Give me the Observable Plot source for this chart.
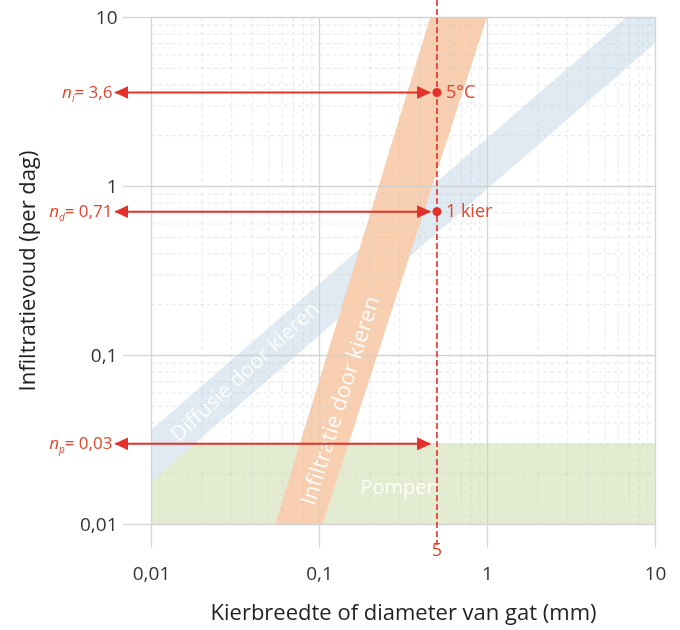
<!DOCTYPE html>
<html>
<head>
<meta charset="utf-8">
<script src="https://cdn.jsdelivr.net/npm/d3@7"></script>
<script src="https://cdn.jsdelivr.net/npm/@observablehq/plot@0.6"></script>
<style>
  html, body { margin: 0; padding: 0; background: #fff; }
  #chart svg { display: block; overflow: visible; }
</style>
</head>
<body>
<div id="chart"></div>
<script>
// ---- data ----
const majorTicks = [0.01, 0.1, 1, 10];
const majorTickLabels = ["0,01", "0,1", "1", "10"];

// Diffusie door kieren (blue band): lower / upper edge at x = 0.01 and x = 10
const diffX = [0.01, 10];
const diffLow = [0.0178, 7.0];
const diffHigh = [0.036, 14];

// Infiltratie door kieren (orange band): left / right edge at y = 0.01 and y = 10
const infY = [0.01, 10];
const infLeft = [0.055, 0.46];
const infRight = [0.105, 1.0];

// Pompen (green band)
const pumpX = [0.01, 10];
const pumpY = [0.01, 0.03];

// Reference crack width (5 -> 0,5 mm)
const refX = 0.5;
const refLabel = "5";

// Arrows / read-offs
const nSub = ["i", "d", "p"];
const nValue = [3.6, 0.71, 0.03];
const nText = ["3,6", "0,71", "0,03"];
const arrowFromX = 0.0061;
const arrowToX = 0.455;

// Points on the reference line
const pointY = [3.6, 0.71];
const pointText = ["5°C", "1 kier"];

// Band labels
const bandText = ["Diffusie door kieren", "Infiltratie door kieren", "Pompen"];
const bandX = [0.036, 0.133, 0.30];
const bandY = [0.08, 0.054, 0.0165];
const bandRotate = [-43, -72.5, 0];
const bandSize = [21, 22, 20];

// minor grid (2..9 in every decade)
const minorTicks = [];
for (const d of [0.01, 0.1, 1]) for (let m = 2; m <= 9; m++) minorTicks.push(+(m * d).toPrecision(3));

const RED = "#e3302a";
const RED_TEXT = "#e0452d";
const FONT = "Open Sans";

const tickLabel = new Map(majorTicks.map((t, i) => [t, majorTickLabels[i]]));

const triMarker = (color) => {
  const ns = "http://www.w3.org/2000/svg";
  const m = document.createElementNS(ns, "marker");
  m.setAttribute("viewBox", "0 -6.5 14 13");
  m.setAttribute("markerUnits", "userSpaceOnUse");
  m.setAttribute("markerWidth", 14);
  m.setAttribute("markerHeight", 13);
  m.setAttribute("refX", 13);
  m.setAttribute("refY", 0);
  m.setAttribute("orient", "auto-start-reverse");
  m.setAttribute("fill", color);
  m.setAttribute("stroke", "none");
  const p = document.createElementNS(ns, "path");
  p.setAttribute("d", "M0,-6.5L14,0L0,6.5Z");
  m.appendChild(p);
  return m;
};

const idx = nValue.map((_, i) => i);
const bandIdx = bandText.map((_, i) => i);

const chart = Plot.plot({
  width: 680,
  height: 630,
  marginLeft: 151,
  marginRight: 25,
  marginTop: 17,
  marginBottom: 106,
  style: {fontFamily: FONT, background: "#fff", overflow: "visible"},
  x: {type: "log", domain: [0.01, 10]},
  y: {type: "log", domain: [0.01, 10]},
  marks: [
    // bands
    Plot.rect([0], {x1: pumpX[0], x2: pumpX[1], y1: pumpY[0], y2: pumpY[1], fill: "#e3ecd0", mixBlendMode: "multiply"}),
    Plot.areaY(diffX.map((x, i) => ({x, y1: diffLow[i], y2: diffHigh[i]})),
      {x: "x", y1: "y1", y2: "y2", fill: "#dfeaf2", clip: true, mixBlendMode: "multiply"}),
    Plot.areaX(infY.map((y, i) => ({y, x1: infLeft[i], x2: infRight[i]})),
      {y: "y", x1: "x1", x2: "x2", fill: "#f8cfb0", clip: true, mixBlendMode: "multiply"}),

    // grid
    Plot.gridX(minorTicks, {stroke: "#c8c8c8", strokeOpacity: 0.42, strokeDasharray: "4,3", strokeWidth: 1}),
    Plot.gridY(minorTicks, {stroke: "#c8c8c8", strokeOpacity: 0.42, strokeDasharray: "4,3", strokeWidth: 1}),
    Plot.gridX(majorTicks, {stroke: "#cfcfcf", strokeOpacity: 0.9, strokeWidth: 1.3}),
    Plot.gridY(majorTicks, {stroke: "#cfcfcf", strokeOpacity: 0.9, strokeWidth: 1.3}),

    // axis tick lines
    Plot.axisX(majorTicks, {tickSize: 24, tickFormat: () => "", stroke: "#d6d6d6", strokeWidth: 1.3, label: null}),
    Plot.axisY(majorTicks, {tickSize: 28, tickFormat: () => "", stroke: "#d6d6d6", strokeWidth: 1.3, label: null}),
    // axis tick labels
    Plot.text(majorTicks, {x: d => d, frameAnchor: "bottom", dy: 49, text: d => tickLabel.get(d),
      fill: "#333", fontSize: 19, lineAnchor: "middle"}),
    Plot.text(majorTicks, {y: d => d, frameAnchor: "left", dx: -34, text: d => tickLabel.get(d),
      fill: "#333", fontSize: 19, textAnchor: "end", lineAnchor: "middle"}),

    // axis titles
    Plot.text(["Kierbreedte of diameter van gat (mm)"], {frameAnchor: "bottom", dy: 88, text: d => d,
      fontSize: 22, fill: "#222", textAnchor: "middle", lineAnchor: "middle"}),
    Plot.text(["Infiltratievoud (per dag)"], {frameAnchor: "left", dx: -124, rotate: -90, text: d => d,
      fontSize: 22, fill: "#222", textAnchor: "middle", lineAnchor: "middle"}),

    // band labels
    Plot.text(bandIdx, {x: i => bandX[i], y: i => bandY[i], text: i => bandText[i], rotate: i => bandRotate[i],
      fontSize: i => bandSize[i], fill: "#fff", fillOpacity: 0.9}),

    // reference line
    Plot.ruleX([refX], {y1: 12.6, y2: 0.0075, stroke: RED, strokeWidth: 1.6, strokeDasharray: "6,3"}),
    Plot.text([refX], {x: d => d, frameAnchor: "bottom", dy: 31, text: () => refLabel, fill: RED_TEXT, fontSize: 18}),

    // arrows
    Plot.link(idx, {x1: () => arrowFromX, x2: () => arrowToX, y1: i => nValue[i], y2: i => nValue[i],
      stroke: RED, strokeWidth: 2, markerStart: triMarker, markerEnd: triMarker}),
    Plot.text(idx, {x: () => arrowFromX, y: i => nValue[i], text: i => `n${nSub[i]}= ${nText[i]}`,
      textAnchor: "end", dx: -3, fill: RED_TEXT, fontSize: 17}),

    // points
    Plot.dot(pointY, {x: () => refX, y: d => d, r: 4.5, fill: RED, stroke: "none"}),
    Plot.text(pointY, {x: () => refX, y: d => d, text: (d, i) => pointText[i], textAnchor: "start", dx: 9,
      fill: RED_TEXT, fontSize: 18})
  ]
});

// rich text for n_i / n_d / n_p labels
d3.select(chart).selectAll("text").each(function () {
  const t = d3.select(this);
  const s = t.text();
  const m = /^n([idp])= (.*)$/.exec(s);
  if (!m) return;
  t.text(null);
  t.append("tspan").attr("font-style", "italic").text("n");
  t.append("tspan").attr("font-style", "italic").attr("font-size", "10px").attr("dy", "4").text(m[1]);
  t.append("tspan").attr("dy", "-4").text("= " + m[2]);
});

document.getElementById("chart").appendChild(chart);
</script>
</body>
</html>
